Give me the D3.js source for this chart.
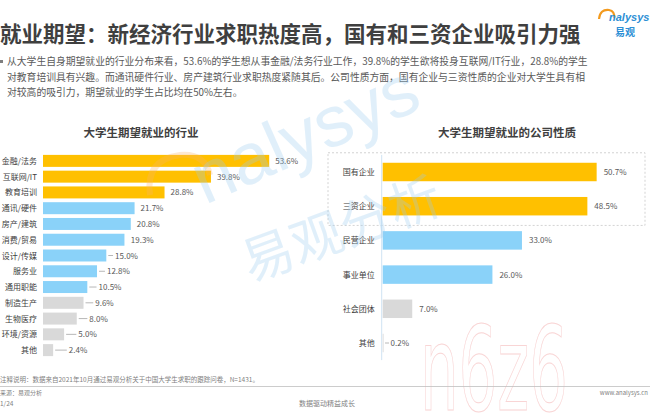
<!DOCTYPE html>
<html><head><meta charset="utf-8">
<script src="https://cdn.jsdelivr.net/npm/d3@7"></script>
<style>
html,body{margin:0;padding:0;background:#fff;}
svg{display:block;font-family:"Noto Sans CJK SC","Noto Sans",sans-serif;}
</style></head>
<body>
<svg id="c" width="650" height="418"></svg>
<script>
const title = "就业期望：新经济行业求职热度高，国有和三资企业吸引力强";
const paragraph = [
  "从大学生自身期望就业的行业分布来看，53.6%的学生想从事金融/法务行业工作，39.8%的学生欲将投身互联网/IT行业，28.8%的学生",
  "对教育培训具有兴趣。而通讯硬件行业、房产建筑行业求职热度紧随其后。公司性质方面，国有企业与三资性质的企业对大学生具有相",
  "对较高的吸引力，期望就业的学生占比均在50%左右。"
];
const leftTitle = "大学生期望就业的行业";
const industries = ["金融/法务","互联网/IT","教育培训","通讯/硬件","房产/建筑","消费/贸易","设计/传媒","服务业","通用职能","制造生产","生物医疗","环境/资源","其他"];
const industryValues = [53.6,39.8,28.8,21.7,20.8,19.3,15.0,12.8,10.5,9.6,8.0,5.0,2.4];
const industryGroup = ["hi","hi","hi","mid","mid","mid","mid","mid","mid","lo","lo","lo","lo"];

const rightTitle = "大学生期望就业的公司性质";
const companies = ["国有企业","三资企业","民营企业","事业单位","社会团体","其他"];
const companyValues = [50.7,48.5,33.0,26.0,7.0,0.2];
const companyGroup = ["hi","hi","mid","mid","lo","lo"];

const footnote = "注释说明：数据来自2021年10月通过易观分析关于中国大学生求职的跟踪问卷，N=1431。";
const source = "来源：易观分析";
const page = "1/24";
const slogan = "数据驱动精益成长";
const website = "www.analysys.cn";

const colors = {hi:"#FFC000", mid:"#8AD2F9", lo:"#D9D9D9"};
const svg = d3.select("#c");

// Title
svg.append("text").attr("x",0).attr("y",42).attr("font-size",21.5).attr("font-weight","bold")
  .attr("fill","#3f3f3f").text(title);

// Logo
const logo = svg.append("g");
logo.append("path").attr("d","M599,19 q1,-10 10,-9 q6,1 5,8").attr("fill","none").attr("stroke","#F39A1E").attr("stroke-width",2.2);
logo.append("text").attr("x",609).attr("y",21).attr("font-size",11).attr("font-style","italic").attr("font-weight","bold")
  .attr("fill","#2D8FD5").attr("font-family","Liberation Sans, sans-serif").text("nalysys");
logo.append("text").attr("x",615).attr("y",36).attr("font-size",10).attr("font-weight","bold").attr("fill","#2D8FD5").text("易观");

// Paragraph
svg.append("rect").attr("x",0).attr("y",60).attr("width",3).attr("height",3).attr("fill","#7f7f7f");
paragraph.forEach((t,i)=>{
  svg.append("text").attr("x",7).attr("y",65+i*15.7).attr("font-size",9.8).attr("fill","#595959").text(t);
});

// Left chart
const xL = d3.scaleLinear().domain([0,100]).range([43,465]);
const yL = d3.scaleBand().domain(industries).range([153,358]).paddingInner(0.24).paddingOuter(0.12);
svg.append("text").attr("x",141).attr("y",137).attr("text-anchor","middle").attr("font-size",11.5)
  .attr("font-weight","bold").attr("fill","#404040").text(leftTitle);
const gL = svg.append("g");
industries.forEach((c,i)=>{
  const v = industryValues[i];
  const y0 = yL(c), bh = yL.bandwidth(), yc = y0+bh/2;
  gL.append("rect").attr("x",xL(0)).attr("y",y0).attr("width",xL(v)-xL(0)).attr("height",bh)
    .attr("fill",colors[industryGroup[i]]);
  gL.append("text").attr("x",xL(0)-6).attr("y",yc+3).attr("text-anchor","end").attr("font-size",8)
    .attr("fill","#404040").text(c);
  const off = v>20 ? 6 : 6+(20-v)*0.55;
  const lx = xL(v)+off;
  if (off>7) gL.append("line").attr("x1",xL(v)+2).attr("x2",lx-2).attr("y1",yc).attr("y2",yc)
    .attr("stroke","#a6a6a6").attr("stroke-width",0.8);
  gL.append("text").attr("x",lx).attr("y",yc+3).attr("font-size",8).attr("fill","#595959").text(v.toFixed(1)+"%");
});

// Right chart
const xR = d3.scaleLinear().domain([0,100]).range([382.7,804.7]);
const yR = d3.scaleBand().domain(companies).range([154.9,360.1]).paddingInner(0.46).paddingOuter(0.23);
svg.append("text").attr("x",507).attr("y",137).attr("text-anchor","middle").attr("font-size",11.5)
  .attr("font-weight","bold").attr("fill","#404040").text(rightTitle);
const gR = svg.append("g");
const by0 = yR(companies[0]) - 10, by1 = yR(companies[1]) + yR.bandwidth() + 10;
gR.append("rect").attr("x",328).attr("y",by0).attr("width",317).attr("height",by1-by0)
  .attr("fill","none").attr("stroke","#c8c8c8").attr("stroke-width",0.8).attr("stroke-dasharray","2,2");
gR.append("line").attr("x1",xR(0)-1).attr("x2",xR(0)-1).attr("y1",yR.range()[0]).attr("y2",yR.range()[1])
  .attr("stroke","#cfe3f3").attr("stroke-width",1);
companies.forEach((c,i)=>{
  const v = companyValues[i];
  const y0 = yR(c), bh = yR.bandwidth(), yc = y0+bh/2;
  gR.append("rect").attr("x",xR(0)).attr("y",y0).attr("width",xR(v)-xR(0)).attr("height",bh)
    .attr("fill",colors[companyGroup[i]]);
  gR.append("text").attr("x",xR(0)-8).attr("y",yc+3).attr("text-anchor","end").attr("font-size",8)
    .attr("fill","#404040").text(c);
  const lx = xR(v)+7;
  if (v<1) gR.append("line").attr("x1",xR(v)+1.5).attr("x2",lx-1.5).attr("y1",yc).attr("y2",yc)
    .attr("stroke","#a6a6a6").attr("stroke-width",0.8);
  gR.append("text").attr("x",lx).attr("y",yc+3).attr("font-size",8).attr("fill","#595959").text(v.toFixed(1)+"%");
});

// Watermarks
const wm = svg.append("g").attr("pointer-events","none");
wm.append("path").attr("d","M150,195 q-5,-35 30,-40 q25,-2 30,20").attr("fill","none")
  .attr("stroke","#F7B46A").attr("stroke-width",6).attr("opacity",0.3);
wm.append("text").attr("transform","translate(205,205) rotate(-24)").attr("font-size",72)
  .attr("font-family","Liberation Sans, sans-serif").attr("fill","#9cCdf0").attr("opacity",0.3).text("nalysys");
wm.append("text").attr("transform","translate(250,282) rotate(-20)").attr("font-size",52)
  .attr("fill","#9cCdf0").attr("opacity",0.3).text("易观分析");
wm.append("text").attr("x",420).attr("y",410).attr("font-size",118).attr("textLength",148)
  .attr("lengthAdjust","spacingAndGlyphs").attr("font-family","DejaVu Sans, sans-serif")
  .attr("fill","none").attr("stroke","#f7c4c4").attr("stroke-width",1).attr("opacity",0.7).text("n6z6");

// Footer
svg.append("text").attr("x",0).attr("y",382).attr("font-size",6.5).attr("fill","#7f7f7f").text(footnote);
svg.append("line").attr("x1",0).attr("x2",650).attr("y1",386.5).attr("y2",386.5).attr("stroke","#bfbfbf").attr("stroke-width",0.8);
svg.append("text").attr("x",0).attr("y",395).attr("font-size",6).attr("fill","#7f7f7f").text(source);
svg.append("text").attr("x",0).attr("y",406).attr("font-size",6.5).attr("fill","#7f7f7f").text(page);
svg.append("text").attr("x",327).attr("y",406).attr("text-anchor","middle").attr("font-size",7).attr("fill","#7f7f7f").text(slogan);
svg.append("text").attr("x",648).attr("y",395).attr("text-anchor","end").attr("font-size",6).attr("fill","#7f7f7f").text(website);
</script>
</body></html>
